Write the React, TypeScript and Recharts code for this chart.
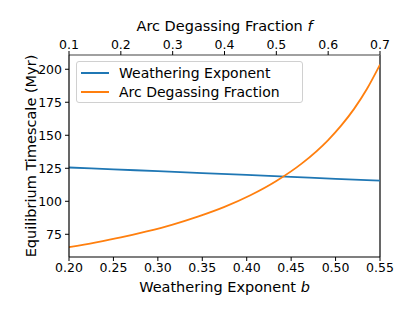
import React from "react";
import { LineChart, Line, XAxis, YAxis, ReferenceLine } from "recharts";

const bTicks = [0.2, 0.25, 0.3, 0.35, 0.4, 0.45, 0.5, 0.55];
const fTicks = [0.1, 0.2, 0.3, 0.4, 0.5, 0.6, 0.7];
const yTicks = [75, 100, 125, 150, 175, 200];

const weatheringB = [0.2, 0.25, 0.3, 0.35, 0.4, 0.45, 0.5, 0.55];
const weatheringT = [125.6, 124.2, 122.8, 121.4, 120.0, 118.5, 117.0, 115.6];

const arcF = [0.1, 0.15, 0.2, 0.25, 0.3, 0.35, 0.4, 0.45, 0.5, 0.55, 0.6, 0.625, 0.65, 0.675, 0.7];
const arcT = [65.2, 68.7, 72.6, 77.2, 82.4, 88.6, 95.8, 104.6, 115.4, 128.9, 146.4, 157.3, 170.0, 185.2, 203.5];

const seriesNames = ["Weathering Exponent", "Arc Degassing Fraction"];
const seriesColors = ["#1f77b4", "#ff7f0e"];

const weatheringData = weatheringB.map((x, i) => ({ x, t: weatheringT[i] }));
const arcData = arcF.map((x, i) => ({ x, t: arcT[i] }));

const FONT = "'DejaVu Sans', sans-serif";
const tickStyle = { fill: "#000", fontSize: 12.5, fontFamily: FONT };

const BottomTitle = (props: any) => {
  const vb = props.viewBox || {};
  return (
    <text x={vb.x + vb.width / 2} y={vb.y + 35} textAnchor="middle" fontSize={14.5} fontFamily={FONT} fill="#000">
      Weathering Exponent <tspan fontStyle="italic">b</tspan>
    </text>
  );
};

const TopTitle = (props: any) => {
  const vb = props.viewBox || {};
  return (
    <text x={vb.x + vb.width / 2} y={vb.y + vb.height - 24} textAnchor="middle" fontSize={14.5} fontFamily={FONT} fill="#000">
      Arc Degassing Fraction <tspan fontStyle="italic">f</tspan>
    </text>
  );
};

const LeftTitle = (props: any) => {
  const vb = props.viewBox || {};
  const cx = 31;
  const cy = vb.y + vb.height / 2;
  return (
    <text x={cx} y={cy} textAnchor="middle" dominantBaseline="central" fontSize={14.5} fontFamily={FONT} fill="#000" transform={`rotate(-90 ${cx} ${cy})`}>
      Equilibrium Timescale (Myr)
    </text>
  );
};

export default function App() {
  return (
    <div style={{ position: "absolute", left: 0, top: 0, width: 415, height: 316, background: "#fff" }}>
      <LineChart width={415} height={316} margin={{ top: 0, right: 35, bottom: 0, left: 0 }}>
        <XAxis
          xAxisId="b"
          dataKey="x"
          type="number"
          orientation="bottom"
          domain={[0.2, 0.55]}
          ticks={bTicks}
          tickFormatter={(v: number) => v.toFixed(2)}
          height={59}
          tickSize={4}
          tickMargin={2}
          tick={tickStyle}
          axisLine={{ stroke: "#000", strokeWidth: 1.2 }}
          tickLine={{ stroke: "#000" }}
          allowDataOverflow
          label={BottomTitle}
        />
        <XAxis
          xAxisId="f"
          dataKey="x"
          type="number"
          orientation="top"
          domain={[0.1, 0.7]}
          ticks={fTicks}
          tickFormatter={(v: number) => v.toFixed(1)}
          height={55}
          tickSize={4}
          tickMargin={2}
          tick={tickStyle}
          axisLine={{ stroke: "#808080", strokeWidth: 1.6 }}
          tickLine={{ stroke: "#000" }}
          allowDataOverflow
          label={TopTitle}
        />
        <YAxis
          type="number"
          domain={[57.8, 210.8]}
          ticks={yTicks}
          width={69}
          tickSize={4}
          tickMargin={3}
          tick={tickStyle}
          axisLine={{ stroke: "#000", strokeWidth: 1.2 }}
          tickLine={{ stroke: "#000" }}
          allowDataOverflow
          label={LeftTitle}
        />
        <ReferenceLine xAxisId="b" x={0.55} stroke="#000" strokeWidth={1.2} ifOverflow="visible" />
        <Line
          xAxisId="b"
          data={weatheringData}
          dataKey="t"
          name={seriesNames[0]}
          type="monotone"
          stroke={seriesColors[0]}
          strokeWidth={1.8}
          dot={false}
          isAnimationActive={false}
        />
        <Line
          xAxisId="f"
          data={arcData}
          dataKey="t"
          name={seriesNames[1]}
          type="monotone"
          stroke={seriesColors[1]}
          strokeWidth={1.8}
          dot={false}
          isAnimationActive={false}
        />
      </LineChart>
      <div
        style={{
          position: "absolute",
          left: 76,
          top: 61,
          width: 227,
          height: 42,
          border: "1px solid #d0d0d0",
          borderRadius: 3,
          background: "rgba(255,255,255,0.8)",
          fontFamily: FONT,
          fontSize: 14,
          color: "#000",
          boxSizing: "border-box",
        }}
      >
        {seriesNames.map((name, i) => (
          <div key={name} style={{ position: "absolute", left: 4, top: 1 + i * 19, height: 19, display: "flex", alignItems: "center", whiteSpace: "nowrap" }}>
            <span style={{ display: "inline-block", width: 28, height: 2, background: seriesColors[i], marginRight: 10 }} />
            <span>{name}</span>
          </div>
        ))}
      </div>
    </div>
  );
}
